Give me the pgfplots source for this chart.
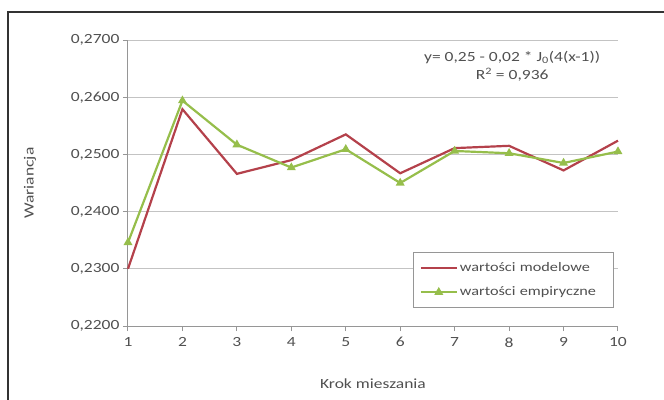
\documentclass[border=0pt]{standalone}
\usepackage{pgfplots}
\pgfplotsset{compat=1.18}
\usepackage{fontspec}
\setmainfont{Carlito}[FakeStretch=1.25]
\definecolor{txt}{RGB}{80,80,80}
\definecolor{gridc}{RGB}{195,195,195}
\definecolor{axc}{RGB}{150,150,150}
\definecolor{redl}{RGB}{180,65,75}
\definecolor{grnl}{RGB}{150,190,75}
\begin{document}
\begin{tikzpicture}[x=1pt,y=1pt]
\useasboundingbox (-128,-73) rectangle (536,326);
\draw[black!80, line width=1.2pt] (-120,-80) -- (-120,314) -- (545,314);
\begin{axis}[
  at={(0,0)}, anchor=south west,
  width=490, height=286, scale only axis,
  xmin=1, xmax=10, ymin=0.22, ymax=0.27,
  xtick={1,2,3,4,5,6,7,8,9,10},
  ytick={0.22,0.23,0.24,0.25,0.26,0.27},
  axis x line=bottom, axis y line=left,
  axis line style={-, draw=axc, line width=1pt},
  tick align=outside, major tick length=5pt,
  tick style={draw=axc, line width=1pt},
  ymajorgrids, grid style={draw=gridc, line width=1pt},
  yticklabel style={/pgf/number format/.cd, fixed, fixed zerofill, precision=4, use comma, assume math mode=true},
  xticklabel style={/pgf/number format/assume math mode=true, yshift=-3pt},
  ticklabel style={font=\fontsize{14}{16}\selectfont, text=txt},
  xtick pos=bottom, ytick pos=left,
  ylabel={Wariancja},
  ylabel style={at={(axis description cs:-0.2,0.5)}, anchor=center, rotate=0, font=\fontsize{14}{16}\selectfont, text=txt},
  xlabel={Krok mieszania},
  xlabel style={at={(axis description cs:0.5,-0.203)}, anchor=center, font=\fontsize{14}{16}\selectfont, text=txt},
  legend style={at={(axis description cs:0.582,0.259)}, anchor=north west, draw=axc, line width=1pt, fill=white,
    font=\fontsize{13}{15}\selectfont, text=txt, inner xsep=6pt, inner ysep=8pt, row sep=10pt, text width=146pt},
  legend image code/.code={\draw[#1, mark repeat=2, mark phase=2] plot coordinates {(0pt,0pt) (18pt,0pt) (36pt,0pt)};},
  clip=false,
]
\addplot[redl, line width=2.2pt] coordinates {
(1,0.2300) (2,0.2579) (3,0.2466) (4,0.2490) (5,0.2535)
(6,0.2467) (7,0.2511) (8,0.2515) (9,0.2472) (10,0.2524)};
\addlegendentry{wartości modelowe}
\addplot[grnl, line width=2.2pt, mark=triangle*, mark size=3pt, mark options={solid}] coordinates {
(1,0.2346) (2,0.2594) (3,0.2517) (4,0.2477) (5,0.2509)
(6,0.2450) (7,0.2506) (8,0.2502) (9,0.2485) (10,0.2505)};
\addlegendentry{wartości empiryczne}
\node[text=txt, font=\fontsize{14}{16}\selectfont] at (axis description cs:0.784,0.94) {y= 0,25 - 0,02 * J\textsubscript{0}(4(x-1))};
\node[text=txt, font=\fontsize{14}{16}\selectfont] at (axis description cs:0.784,0.878) {R\textsuperscript{2} = 0,936};
\end{axis}
\end{tikzpicture}
\end{document}
